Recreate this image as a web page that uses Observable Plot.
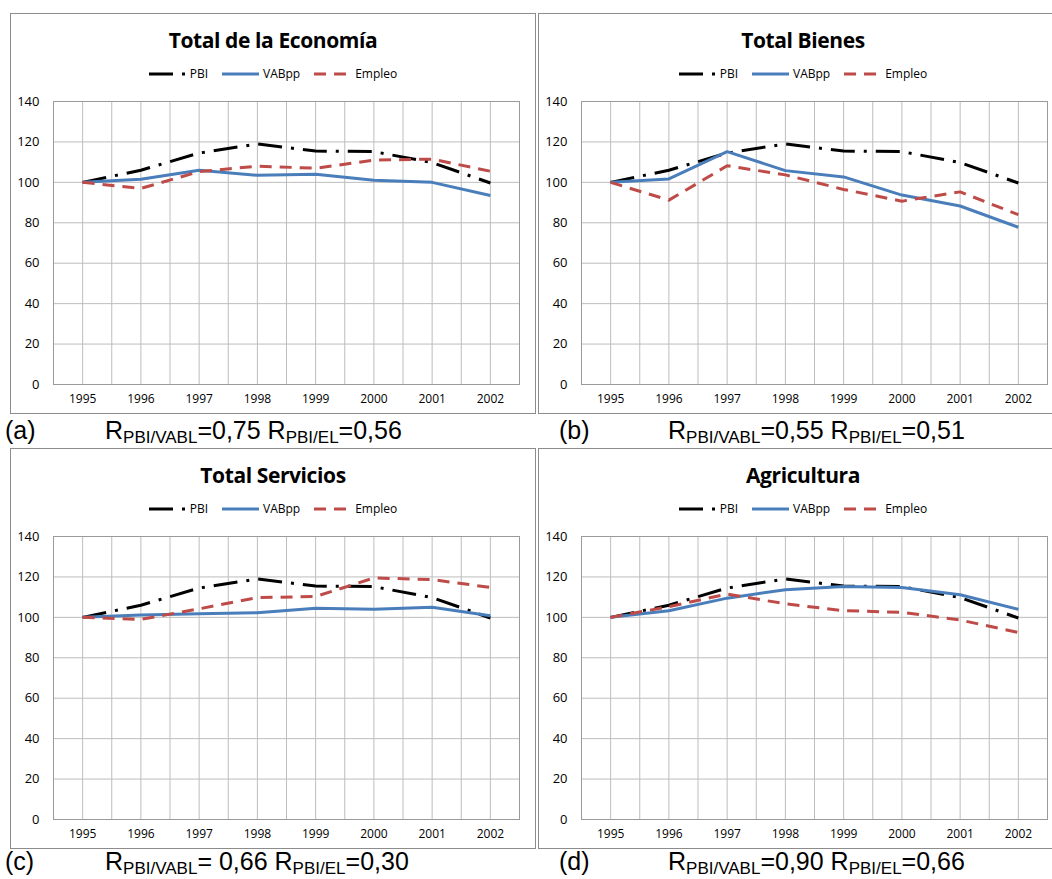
<!DOCTYPE html>
<html>
<head>
<meta charset="utf-8">
<script src="https://cdn.jsdelivr.net/npm/d3@7"></script>
<script src="https://cdn.jsdelivr.net/npm/@observablehq/plot@0.6"></script>
<style>
  html, body { margin: 0; padding: 0; background: #fff; }
  #page { position: relative; width: 1052px; height: 879px; overflow: hidden; background: #fff; }
  .panel { position: absolute; box-sizing: border-box; border: 1px solid #8c8c8c; background: #fff; }
  .ptitle { position: absolute; left: 0; right: 0; text-align: center; font-family: "Open Sans", sans-serif; font-weight: 700; font-size: 21px; line-height: 26px; color: #000; letter-spacing: -0.4px; }
  .legend { position: absolute; left: 0; right: 0; display: flex; justify-content: center; align-items: center; font-family: "Open Sans", sans-serif; font-size: 12px; line-height: 14px; color: #000; }
  .legend .item { display: flex; align-items: center; margin: 0 7px; }
  .legend svg { margin-right: 4px; }
  .chart { position: absolute; }
  .chart g[aria-label="y-axis tick label"], .chart g[aria-label="y-axis tick label"] text { font-size: 13px; }
  .chart g[aria-label="x-axis tick label"], .chart g[aria-label="x-axis tick label"] text { font-size: 12px; }
  .caption { position: absolute; font-family: "Liberation Sans", Arial, sans-serif; font-size: 25px; line-height: 25px; color: #000; white-space: nowrap; }
  .caption sub { font-size: 17px; line-height: 17px; vertical-align: baseline; position: relative; top: 4px; }
  #maintitle { position: absolute; left: 250px; top: -27px; font-family: "Liberation Sans", Arial, sans-serif; font-weight: 700; font-size: 26px; line-height: 26px; white-space: nowrap; }
</style>
</head>
<body>
<div id="page"></div>
<script>
// ---- data ----
const years = [1995, 1996, 1997, 1998, 1999, 2000, 2001, 2002];
const yTicks = [0, 20, 40, 60, 80, 100, 120, 140];
const seriesNames = ["PBI", "VABpp", "Empleo"];
const pbi = [100, 106, 114.5, 119, 115.5, 115.2, 109.8, 99.7];

const panelTitles = ["Total de la Economía", "Total Bienes", "Total Servicios", "Agricultura"];
const panelLetters = ["(a)", "(b)", "(c)", "(d)"];
const rVabl = ["0,75", "0,55", " 0,66", "0,90"];
const rEl = ["0,56", "0,51", "0,30", "0,66"];

const vabEconomia = [100, 101.5, 106, 103.5, 104, 101, 100, 93.5];
const empEconomia = [100, 97, 105.3, 108, 107, 111, 111.5, 105.5];
const vabBienes = [100, 101.7, 115.2, 105.8, 102.7, 93.7, 88.3, 77.8];
const empBienes = [100, 91.2, 108.2, 103.7, 96.5, 90.7, 95.3, 84];
const vabServicios = [100, 101.2, 101.8, 102.3, 104.5, 104, 105, 100.8];
const empServicios = [100, 99, 104.2, 109.8, 110.3, 119.5, 118.7, 114.8];
const vabAgricultura = [100, 103.3, 109.5, 113.7, 115.3, 114.8, 111.2, 104];
const empAgricultura = [100, 105.3, 111.5, 106.7, 103.3, 102.5, 98.7, 92.5];

const vabAll = [vabEconomia, vabBienes, vabServicios, vabAgricultura];
const empAll = [empEconomia, empBienes, empServicios, empAgricultura];

// ---- styles ----
const sty = {
  PBI: {stroke: "#000000", dash: "24,9,3,9", width: 3},
  VABpp: {stroke: "#4A7EBB", dash: null, width: 3},
  Empleo: {stroke: "#BE4B48", dash: "12,8", width: 3}
};

const page = document.getElementById("page");

const mt = document.createElement("div");
mt.id = "maintitle";
mt.textContent = "PBI, Empleo total y VAB sectorial";
page.appendChild(mt);

const layout = [
  {left: 10, top: 13, width: 526},
  {left: 538, top: 13, width: 530},
  {left: 10, top: 448, width: 526},
  {left: 538, top: 448, width: 530}
];

function legendHTML() {
  return seriesNames.map(n => {
    const s = sty[n];
    const dash = s.dash ? `stroke-dasharray="${s.dash}"` : "";
    return `<div class="item"><svg width="37" height="6"><line x1="0" y1="3" x2="37" y2="3" stroke="${s.stroke}" stroke-width="${s.width}" ${dash}/></svg><span>${n}</span></div>`;
  }).join("");
}

const gridX = years.flatMap(y => [y - 0.5, y]).concat([years[years.length - 1] + 0.5]);

layout.forEach((L, i) => {
  const p = document.createElement("div");
  p.className = "panel";
  p.style.left = L.left + "px";
  p.style.top = L.top + "px";
  p.style.width = L.width + "px";
  p.style.height = "401px";
  const t = document.createElement("div");
  t.className = "ptitle";
  t.style.top = "13px";
  t.textContent = panelTitles[i];
  p.appendChild(t);
  const lg = document.createElement("div");
  lg.className = "legend";
  lg.style.top = "53px";
  lg.innerHTML = legendHTML();
  p.appendChild(lg);
  page.appendChild(p);

  const rows = [];
  years.forEach((y, k) => {
    rows.push({year: y, series: "PBI", value: pbi[k]});
    rows.push({year: y, series: "VABpp", value: vabAll[i][k]});
    rows.push({year: y, series: "Empleo", value: empAll[i][k]});
  });

  const chart = Plot.plot({
    width: L.width - 1,
    height: 320,
    marginLeft: 43,
    marginRight: L.width - 1 - 43 - 466,
    marginTop: 11,
    marginBottom: 26,
    style: {fontFamily: "Open Sans, sans-serif", fontSize: "12px", color: "#000", background: "transparent", overflow: "visible"},
    x: {domain: [years[0] - 0.5, years[years.length - 1] + 0.5]},
    y: {domain: [0, 140]},
    marks: [
      Plot.ruleX(gridX, {stroke: "#bdbdbd", strokeWidth: 1}),
      Plot.ruleY(yTicks, {stroke: "#bdbdbd", strokeWidth: 1}),
      Plot.frame({stroke: "#9a9a9a"}),
      Plot.axisX({ticks: years, tickFormat: d => String(d), tickSize: 0, tickPadding: 10, label: null}),
      Plot.axisY({ticks: yTicks, tickSize: 0, tickPadding: 14, label: null}),
      ...seriesNames.map(n => Plot.line(rows.filter(r => r.series === n), {
        x: "year", y: "value",
        stroke: sty[n].stroke, strokeWidth: sty[n].width,
        strokeDasharray: sty[n].dash || undefined,
        strokeLinecap: "butt", strokeLinejoin: "round"
      }))
    ]
  });
  chart.classList.add("chart");
  chart.style.left = L.left + "px";
  chart.style.top = (L.top + 77) + "px";
  page.appendChild(chart);

  const c = document.createElement("div");
  c.className = "caption";
  c.style.left = (i % 2 === 0 ? 5 : 559) + "px";
  c.style.top = (i < 2 ? 418 : 849) + "px";
  c.textContent = panelLetters[i];
  page.appendChild(c);
  const c2 = document.createElement("div");
  c2.className = "caption";
  c2.style.left = (i % 2 === 0 ? 105 : 668) + "px";
  c2.style.top = (i < 2 ? 418 : 849) + "px";
  c2.innerHTML = `R<sub>PBI/VABL</sub>=${rVabl[i]} R<sub>PBI/EL</sub>=${rEl[i]}`;
  page.appendChild(c2);
});
</script>
</body>
</html>
